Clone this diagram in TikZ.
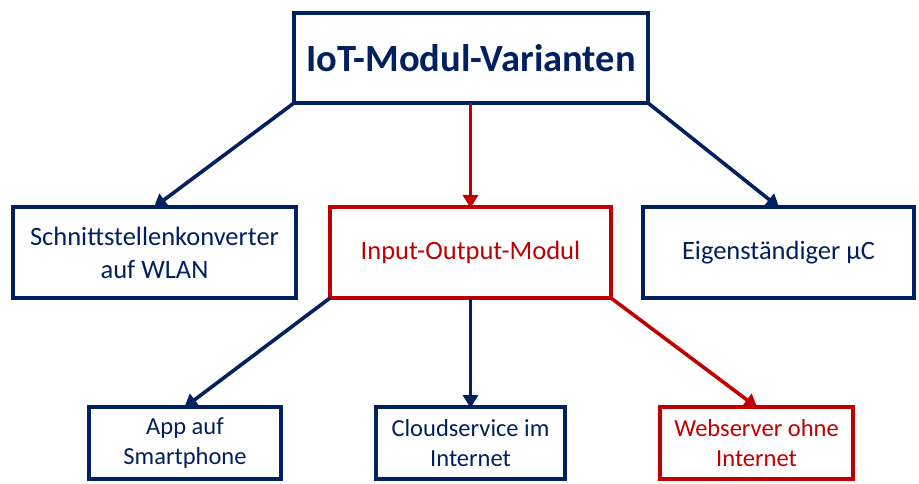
\documentclass[tikz,border=0pt]{standalone}
\usepackage{fontspec}
\setmainfont{Carlito}
\usetikzlibrary{arrows.meta}
\definecolor{navy}{HTML}{002060}
\definecolor{dred}{HTML}{C00000}
\tikzset{
  box/.style={draw=#1, text=#1, line width=4pt, inner sep=0pt, outer sep=0pt,
    align=center, fill=white},
  conn/.style={draw=#1, line width=3.6pt,
    -{Triangle[length=13pt,width=15pt]}, shorten >=-1pt},
  midfont/.style={font=\fontsize{26.5}{33}\selectfont},
  smallfont/.style={font=\fontsize{24.5}{29.5}\selectfont},
}
\begin{document}
\begin{tikzpicture}[x=1pt,y=-1pt]
\useasboundingbox[fill=white] (0,0) rectangle (919,484);
\node[box=navy, minimum width=354pt, minimum height=90pt, font=\fontsize{38.5}{44}\selectfont\bfseries]
  (top) at (471,58) {IoT-Modul-Varianten};
\node[box=navy, midfont, minimum width=283pt, minimum height=91pt]
  (left) at (154.5,252.5) {Schnittstellenkonverter\\auf WLAN};
\node[box=dred, midfont, minimum width=281pt, minimum height=91pt]
  (mid) at (470.5,252.5) {Input-Output-Modul};
\node[box=navy, midfont, minimum width=271pt, minimum height=91pt]
  (right) at (778.5,252.5) {Eigenständiger µC};
\node[box=navy, smallfont, minimum width=192pt, minimum height=72pt]
  (bl) at (185,443) {App auf\\Smartphone};
\node[box=navy, smallfont, minimum width=189pt, minimum height=72pt]
  (bm) at (470.5,443) {Cloudservice im\\Internet};
\node[box=dred, smallfont, minimum width=193pt, minimum height=72pt]
  (br) at (756.5,443) {Webserver ohne\\Internet};
\draw[conn=navy] (top.south west) -- (left.north);
\draw[conn=dred] (top.south -| mid.north) -- (mid.north);
\draw[conn=navy] (top.south east) -- (right.north);
\draw[conn=navy] (mid.south west) -- (bl.north);
\draw[conn=navy] (mid.south) -- (bm.north);
\draw[conn=dred] (mid.south east) -- (br.north);
\end{tikzpicture}
\end{document}
